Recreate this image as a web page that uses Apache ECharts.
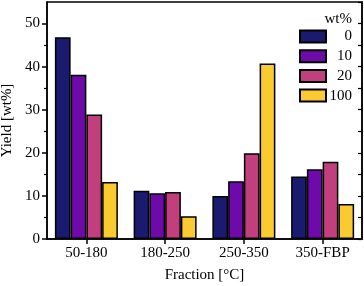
<!DOCTYPE html>
<html>
<head>
<meta charset="utf-8">
<script src="https://cdn.jsdelivr.net/npm/echarts@6/dist/echarts.min.js"></script>
<style>html,body{margin:0;padding:0;background:#fff}#c{width:364px;height:286px}</style>
</head>
<body>
<div id="c"></div>
<script>
const categories = ['50-180', '180-250', '250-350', '350-FBP'];
const seriesNames = ['0', '10', '20', '100'];
const wt0 = [46.8, 11.2, 10.0, 14.5];
const wt10 = [38.1, 10.6, 13.4, 16.2];
const wt20 = [28.9, 10.9, 19.9, 17.9];
const wt100 = [13.2, 5.3, 40.7, 8.1];
const majorTicks = [0, 10, 20, 30, 40, 50];
const minorTicks = [5, 15, 25, 35, 45];
const colors = ['#1a1a6e', '#6e0aa9', '#c13f7c', '#f9cb30'];

const FONT = 'Liberation Serif';
const FS = 15;
const values = [wt0, wt10, wt20, wt100];
const chart = echarts.init(document.getElementById('c'), null, {renderer: 'canvas'});
const axisLine = {show: true, lineStyle: {color: '#000', width: 1.5}};
chart.setOption({
  animation: false,
  textStyle: {fontFamily: FONT, color: '#000'},
  grid: {left: 47, right: 2, top: 2, bottom: 47, show: true, borderColor: '#000', borderWidth: 1.5,
         containLabel: false, outerBoundsMode: 'none'},
  legend: {
    orient: 'vertical', left: 299, top: 29, padding: 0,
    itemWidth: 26, itemHeight: 12, itemGap: 4.7,
    icon: 'rect',
    data: seriesNames,
    formatter: '{a|{name}}',
    textStyle: {fontFamily: FONT, fontSize: FS, color: '#000', lineHeight: 12,
      rich: {a: {width: 21, height: 12, lineHeight: 12, align: 'right', fontFamily: FONT, fontSize: FS, color: '#000'}}}
  },
  graphic: [{type: 'text', right: 12, top: 12, style: {text: 'wt%', font: FS + 'px "Liberation Serif"', fill: '#000'}}],
  xAxis: {
    type: 'category', data: categories,
    name: 'Fraction [°C]', nameLocation: 'middle', nameGap: 29,
    nameTextStyle: {fontFamily: FONT, fontSize: FS, color: '#000'},
    axisLine: axisLine,
    axisTick: {show: true, alignWithLabel: true, length: 5, lineStyle: {color: '#000', width: 1.5}},
    axisLabel: {fontFamily: FONT, fontSize: FS, color: '#000', margin: 7},
    splitLine: {show: false}
  },
  yAxis: [
    {
      type: 'value', min: 0, max: 55, interval: 5, position: 'left',
      name: 'Yield [wt%]', nameLocation: 'middle', nameGap: 28,
      nameTextStyle: {fontFamily: FONT, fontSize: FS, color: '#000'},
      axisLine: axisLine,
      axisTick: {show: true, length: 5, customValues: majorTicks, lineStyle: {color: '#000', width: 1.5}},
      axisLabel: {fontFamily: FONT, fontSize: FS, color: '#000', margin: 7, customValues: majorTicks},
      splitLine: {show: false}
    },
    {
      type: 'value', min: 0, max: 55, interval: 5, position: 'left',
      axisLine: {show: false},
      axisTick: {show: true, length: 3, customValues: minorTicks, lineStyle: {color: '#000', width: 1.2}},
      axisLabel: {show: false},
      splitLine: {show: false}
    },
    {
      type: 'value', min: 0, max: 55, interval: 5, position: 'right',
      axisLine: axisLine,
      axisTick: {show: true, inside: true, length: 4, lineStyle: {color: '#000', width: 1.2}},
      axisLabel: {show: false},
      splitLine: {show: false}
    }
  ],
  series: seriesNames.map((n, i) => ({
    name: n, type: 'bar', data: values[i], yAxisIndex: 0,
    barGap: '0%', barCategoryGap: '20%',
    itemStyle: {color: colors[i], borderColor: '#000', borderWidth: 1.5}
  }))
});
</script>
</body>
</html>
